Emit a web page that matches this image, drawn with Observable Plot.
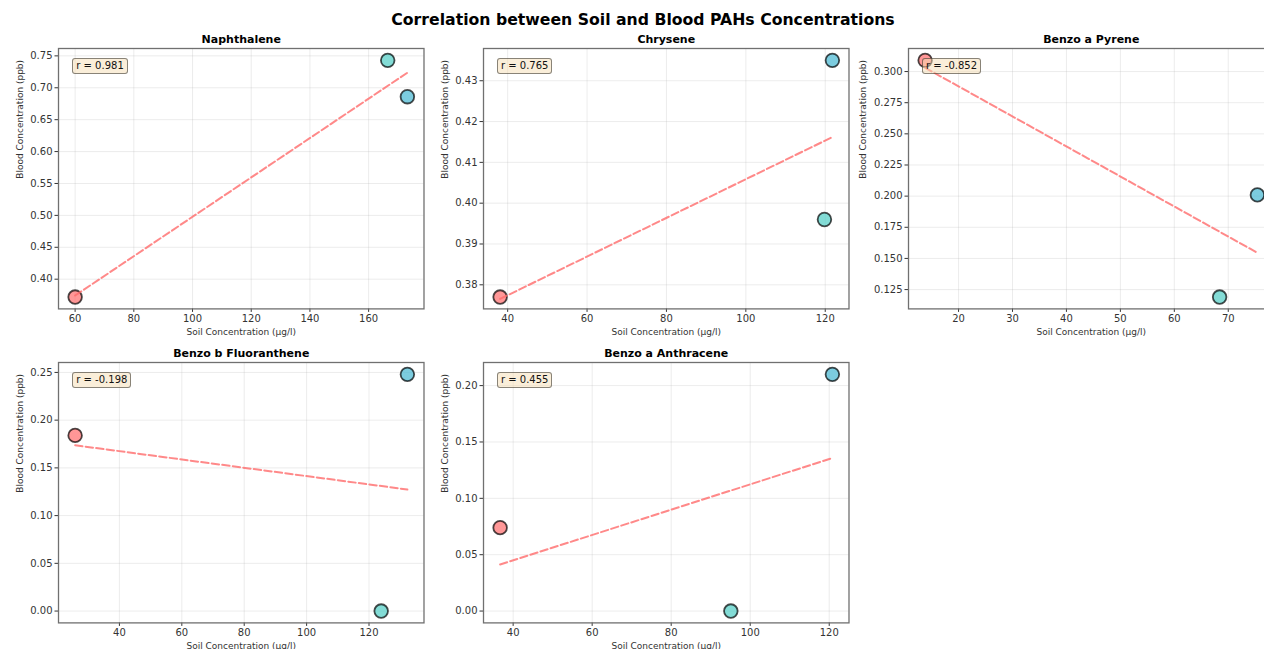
<!DOCTYPE html>
<html><head><meta charset="utf-8">
<script src="https://cdn.jsdelivr.net/npm/d3@7"></script>
<script src="https://cdn.jsdelivr.net/npm/@observablehq/plot@0.6"></script>
<style>
html,body{margin:0;padding:0;background:#fff;overflow:hidden;width:1264px;height:649px;}
#root{position:relative;width:1264px;height:649px;font-family:"DejaVu Sans",sans-serif;overflow:hidden;}
.panel{position:absolute;}
.panel svg{max-width:none !important;}
.title{position:absolute;left:0;width:1286px;top:10px;text-align:center;font-weight:bold;font-size:15.7px;line-height:20px;color:#000;}
.rbox{position:absolute;font-size:10px;line-height:12px;padding:1px 3px;background:rgba(245,222,179,0.5);border:1px solid rgba(0,0,0,0.45);border-radius:3px;color:#111;white-space:nowrap;box-sizing:border-box;}
</style></head><body><div id="root"></div>
<script>
// ---- data ----
const figTitle = "Correlation between Soil and Blood PAHs Concentrations";
const compounds = ["Naphthalene", "Chrysene", "Benzo a Pyrene", "Benzo b Fluoranthene", "Benzo a Anthracene"];
const soil = [
  [60.0, 166.5, 173.2],
  [38.1, 119.8, 121.8],
  [13.8, 68.4, 75.4],
  [25.8, 123.9, 132.3],
  [36.7, 95.1, 120.8]
];
const blood = [
  [0.372, 0.743, 0.686],
  [0.377, 0.396, 0.435],
  [0.309, 0.119, 0.201],
  [0.184, 0.000, 0.248],
  [0.074, 0.000, 0.210]
];
const rValues = [0.981, 0.765, -0.852, -0.198, 0.455];
const pointColors = ["#FF6B6B", "#4ECDC4", "#45B7D1"];
const xTicks = [
  [60, 80, 100, 120, 140, 160],
  [40, 60, 80, 100, 120],
  [20, 30, 40, 50, 60, 70],
  [40, 60, 80, 100, 120],
  [40, 60, 80, 100, 120]
];
const yTicks = [
  [0.40, 0.45, 0.50, 0.55, 0.60, 0.65, 0.70, 0.75],
  [0.38, 0.39, 0.40, 0.41, 0.42, 0.43],
  [0.125, 0.150, 0.175, 0.200, 0.225, 0.250, 0.275, 0.300],
  [0.00, 0.05, 0.10, 0.15, 0.20, 0.25],
  [0.00, 0.05, 0.10, 0.15, 0.20]
];
const yDecimals = [2, 2, 3, 2, 2];
const xLabel = "Soil Concentration (μg/l)";
const yLabel = "Blood Concentration (ppb)";

// ---- layout ----
const FW = 365.5, FH = 260.4;
const frameLefts = [58, 482.7, 907.7];
const frameTops = [48, 362.3];
const ML = 70, MR = 10, MT = 30, MB = 40;

const root = document.getElementById("root");
const t = document.createElement("div");
t.className = "title"; t.textContent = figTitle;
root.appendChild(t);

function padDomain(v) {
  const lo = d3.min(v), hi = d3.max(v), m = (hi - lo) * 0.05;
  return [lo - m, hi + m];
}

compounds.forEach((name, i) => {
  const col = i % 3, row = Math.floor(i / 3);
  const fl = frameLefts[col], ft = frameTops[row];
  const pts = soil[i].map((x, j) => ({x, y: blood[i][j], c: pointColors[j]}));
  // least-squares fit
  const mx = d3.mean(soil[i]), my = d3.mean(blood[i]);
  const sxy = d3.sum(pts, p => (p.x - mx) * (p.y - my));
  const sxx = d3.sum(pts, p => (p.x - mx) ** 2);
  const slope = sxy / sxx, icpt = my - slope * mx;
  const [x0, x1] = d3.extent(soil[i]);
  const fit = [{x: x0, y: icpt + slope * x0}, {x: x1, y: icpt + slope * x1}];
  const fmt = d3.format("." + yDecimals[i] + "f");
  const yOff = 38.5 + (yDecimals[i] - 2) * 6.5;
  const W = FW + ML + MR, H = FH + MT + MB;

  const chart = Plot.plot({
    width: W,
    height: H,
    marginLeft: ML, marginRight: MR, marginTop: MT, marginBottom: MB,
    style: {fontFamily: "DejaVu Sans", fontSize: "10px", background: "transparent", overflow: "visible", color: "#333", maxWidth: "none"},
    x: {domain: padDomain(soil[i]), label: null},
    y: {domain: padDomain(blood[i]), label: null},
    color: {type: "identity"},
    marks: [
      Plot.gridX(xTicks[i], {stroke: "#b0b0b0", strokeOpacity: 0.3, strokeWidth: 0.8}),
      Plot.gridY(yTicks[i], {stroke: "#b0b0b0", strokeOpacity: 0.3, strokeWidth: 0.8}),
      Plot.axisX(xTicks[i], {tickSize: 3.5, tickPadding: 2.5, fontSize: 10, stroke: "#333", fill: "#333", label: null}),
      Plot.axisY(yTicks[i], {tickSize: 3.5, tickPadding: 2.5, fontSize: 10, stroke: "#333", fill: "#333", label: null, tickFormat: fmt}),
      Plot.frame({stroke: "#707070", strokeWidth: 1.3}),
      Plot.dot(pts, {x: "x", y: "y", r: 6.8, fill: "c", fillOpacity: 0.7, stroke: "black", strokeOpacity: 0.7, strokeWidth: 1.8}),
      Plot.line(fit, {x: "x", y: "y", stroke: "#FF6B6B", strokeOpacity: 0.8, strokeWidth: 2, strokeDasharray: "7.4,3.2"}),
      Plot.text([name], {text: d => d, frameAnchor: "top", dy: -9, lineAnchor: "middle", fontWeight: "bold", fontSize: 11, fill: "black"}),
      Plot.text([xLabel], {text: d => d, frameAnchor: "bottom", dy: 23, lineAnchor: "middle", fontSize: 9, fill: "#333"}),
      Plot.text([yLabel], {text: d => d, frameAnchor: "left", dx: -yOff, rotate: -90, lineAnchor: "middle", fontSize: 9, fill: "#333"})
    ]
  });
  chart.style.maxWidth = "none";
  const wrap = document.createElement("div");
  wrap.className = "panel";
  wrap.style.left = (fl - ML) + "px";
  wrap.style.top = (ft - MT) + "px";
  wrap.style.width = W + "px";
  wrap.style.height = H + "px";
  wrap.appendChild(chart);
  root.appendChild(wrap);

  const box = document.createElement("div");
  box.className = "rbox";
  box.textContent = "r = " + rValues[i].toFixed(3);
  box.style.left = (fl + 0.05 * FW - 4) + "px";
  box.style.top = (ft + 0.05 * FH - 3) + "px";
  root.appendChild(box);
});
</script>
</body></html>
